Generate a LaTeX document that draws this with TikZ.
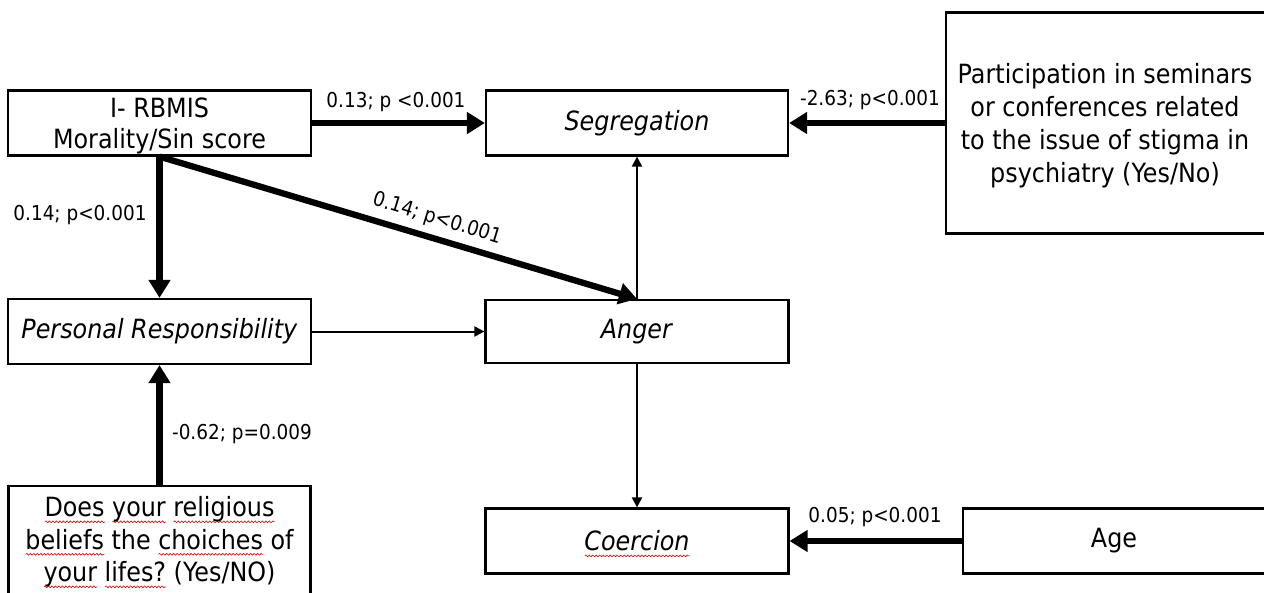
\documentclass[tikz,border=0pt]{standalone}
\usepackage{fontspec}
\setmainfont{DejaVu Sans}[FakeStretch=0.9]
\usetikzlibrary{arrows.meta,decorations.pathmorphing}
\newsavebox\sqbox
\newdimen\sqw
\newcommand\sq[1]{\sbox\sqbox{#1}\sqw=\wd\sqbox\rlap{\smash{\tikz[baseline=0pt]\draw[draw=red!85!black, line width=0.6pt, decorate, decoration={snake, amplitude=0.9pt, segment length=3.5pt}] (0pt,-5pt) -- (\the\sqw,-5pt);}}\usebox\sqbox}
\tikzset{
  box/.style={draw, line width=2.2pt, rectangle, inner sep=0pt, align=center,
    font=\fontsize{26.5}{32.5}\selectfont},
  txt/.style={inner sep=0pt, align=center, font=\fontsize{26.5}{33}\selectfont},
  thickarr/.style={line width=6.3pt, -{Triangle[length=18pt,width=21pt]}},
  thinarr/.style={line width=2pt, -{Triangle[length=10pt,width=10pt]}},
  lab/.style={inner sep=0pt, font=\fontsize{20.5}{24}\selectfont}
}
\begin{document}
\begin{tikzpicture}[x=1pt,y=-1pt]
\useasboundingbox (0,0) rectangle (1264,592);
% boxes
\node[box, minimum width=303pt, minimum height=65pt] (rb) at (159.5,123) {};
\node[txt, font=\fontsize{26.5}{31}\selectfont] (rbt) at (159.5,126) {I- RBMIS\\Morality/Sin score};
\node[box, minimum width=302pt, minimum height=65pt] (seg) at (637,123) {\textit{Segregation}};
\node[box, minimum width=319pt, minimum height=221pt] (pa) at (1105.5,123) {};
\node[txt] (pat) at (1105,126) {Participation in seminars\\or conferences related\\to the issue of stigma in\\psychiatry (Yes/No)};
\node[box, minimum width=303pt, minimum height=65pt] (pr) at (159.5,331.5) {\textit{Personal Responsibility}};
\node[box, minimum width=303pt, minimum height=63pt] (an) at (637,331.5) {\textit{Anger}};
\node[box, minimum width=302pt, minimum height=112pt] (do) at (159.5,542) {\sq{Does} \sq{your} \sq{religious}\\\sq{beliefs} the \sq{choiches} of\\\sq{your} \sq{lifes?} (Yes/NO)};
\node[box, minimum width=303pt, minimum height=65pt] (co) at (637,541) {\textit{\sq{Coercion}}};
\node[box, minimum width=302pt, minimum height=65pt] (ag) at (1114,541) {Age};
% connectors
\draw[thickarr] (rb.east) -- (seg.west);
\draw[thickarr] (pa.west) -- (seg.east);
\draw[thickarr] (rb.south) -- (pr.north);
\draw[thickarr] (rb.south) -- (an.north);
\draw[thickarr] (do.north) -- (pr.south);
\draw[thickarr] (ag.west) -- (co.east);
\draw[thinarr] (pr.east) -- (an.west);
\draw[thinarr] (an.north) -- (seg.south);
\draw[thinarr] (an.south) -- (co.north);
% labels
\node[lab] (l1) at (396,102) {0.13; p <0.001};
\node[lab] (l2) at (870,100) {-2.63; p<0.001};
\node[lab] (l3) at (80,215) {0.14; p<0.001};
\node[lab] (l4) at (242,434) {-0.62; p=0.009};
\node[lab] (l5) at (875,517) {0.05; p<0.001};
\node[lab, rotate=-17] (l6) at (437,219) {0.14; p<0.001};
\end{tikzpicture}
\end{document}
